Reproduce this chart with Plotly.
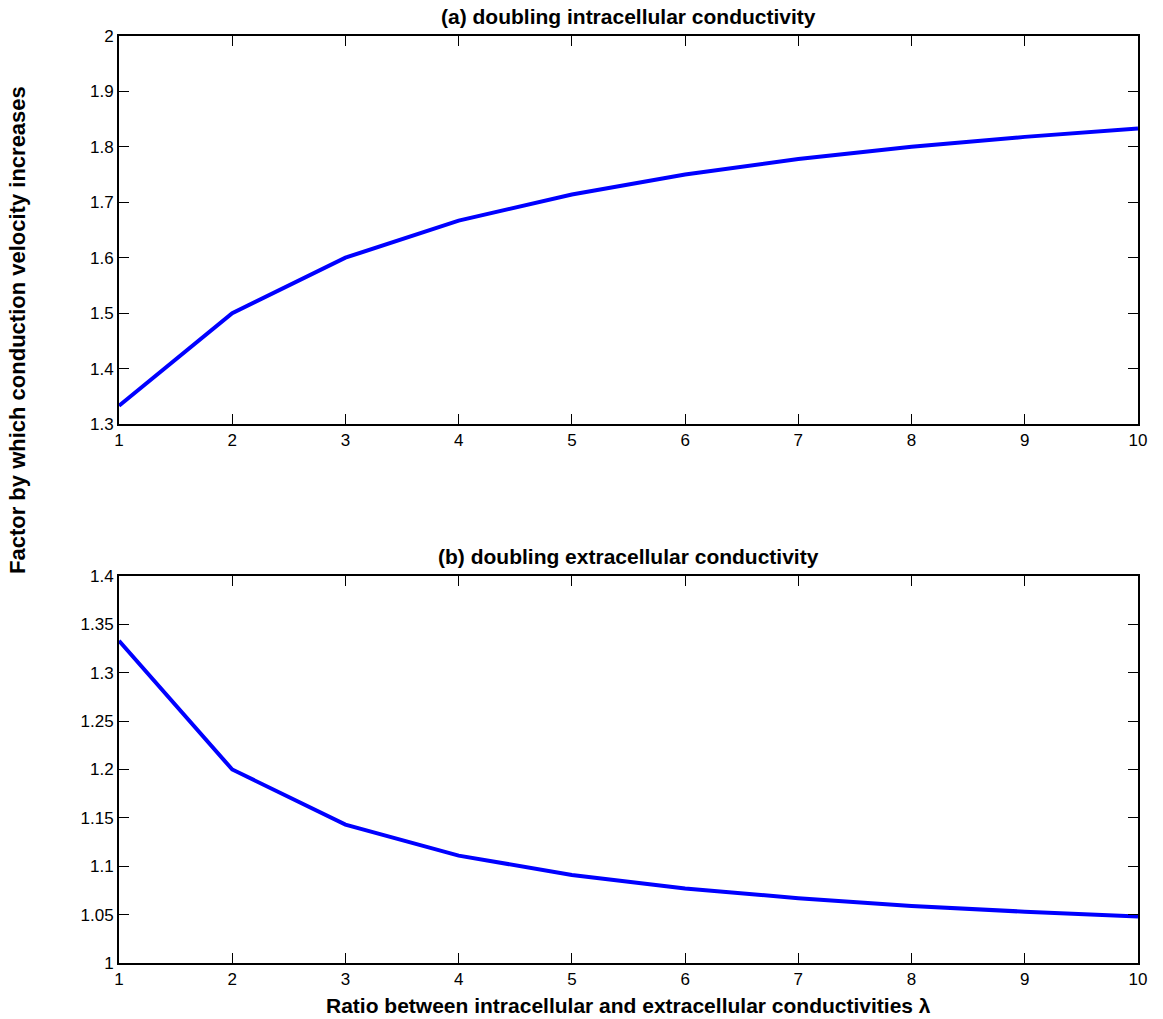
import plotly.graph_objects as go
from plotly.subplots import make_subplots

# Ratio between intracellular and extracellular conductivities
lam = [1, 2, 3, 4, 5, 6, 7, 8, 9, 10]

# Velocity increase factor when doubling intracellular conductivity
factor_intra = [1.333, 1.5, 1.6, 1.667, 1.714, 1.75, 1.778, 1.8, 1.818, 1.833]

# Velocity increase factor when doubling extracellular conductivity
factor_extra = [1.333, 1.2, 1.143, 1.111, 1.091, 1.077, 1.067, 1.059, 1.053, 1.048]

x_ticks = [1, 2, 3, 4, 5, 6, 7, 8, 9, 10]
y_ticks_a = [1.3, 1.4, 1.5, 1.6, 1.7, 1.8, 1.9, 2]
y_ticks_b = [1, 1.05, 1.1, 1.15, 1.2, 1.25, 1.3, 1.35, 1.4]

W, H = 1163, 1019
L, R, T, B = 119, 25, 36, 56
PLOT_H = H - T - B

fig = make_subplots(rows=2, cols=1)

line_style = dict(color="#0000FF", width=4)
fig.add_trace(go.Scatter(x=lam, y=factor_intra, mode="lines", line=line_style,
                         showlegend=False), row=1, col=1)
fig.add_trace(go.Scatter(x=lam, y=factor_extra, mode="lines", line=line_style,
                         showlegend=False), row=2, col=1)

tick_font = dict(family="Liberation Sans, Arial, sans-serif", size=17, color="#000")
axis_common = dict(
    showline=True, linecolor="#000", linewidth=2, mirror="ticks",
    ticks="inside", ticklen=10, tickwidth=1, tickcolor="#000",
    showgrid=False, zeroline=False, tickfont=tick_font,
)

fig.update_xaxes(range=[1, 10], tickvals=x_ticks,
                 ticktext=[str(v) for v in x_ticks], **axis_common)
fig.update_yaxes(**axis_common)
fig.update_yaxes(range=[1.3, 2], tickvals=y_ticks_a,
                 ticktext=[f"{v:g}" for v in y_ticks_a], row=1, col=1)
fig.update_yaxes(range=[1, 1.4], tickvals=y_ticks_b,
                 ticktext=[f"{v:g}" for v in y_ticks_b], row=2, col=1)

# Panel heights in pixels: top panel 36..424, bottom panel 576..963
top_bottom_px, bottom_top_px = 424, 576
dom_a = [(H - B - top_bottom_px) / PLOT_H, 1.0]
dom_b = [0.0, (H - B - bottom_top_px) / PLOT_H]

fig.update_layout(
    xaxis=dict(domain=[0, 1]),
    yaxis=dict(domain=dom_a),
    xaxis2=dict(domain=[0, 1]),
    yaxis2=dict(domain=dom_b),
)

title_font = dict(family="Liberation Sans, Arial, sans-serif", size=21, color="#000")
annotations = [
    dict(text="<b>(a) doubling intracellular conductivity</b>", x=0.5, y=1.0,
         xref="paper", yref="paper", xanchor="center", yanchor="bottom",
         yshift=6, showarrow=False, font=title_font),
    dict(text="<b>(b) doubling extracellular conductivity</b>", x=0.5, y=dom_b[1],
         xref="paper", yref="paper", xanchor="center", yanchor="bottom",
         yshift=6, showarrow=False, font=title_font),
    dict(text="<b>Ratio between intracellular and extracellular conductivities λ</b>",
         x=0.5, y=0, xref="paper", yref="paper", xanchor="center", yanchor="top",
         yshift=-29, showarrow=False,
         font=dict(family="Liberation Sans Narrow, Liberation Sans, Arial, sans-serif",
                   size=21, color="#000")),
    dict(text="<b>Factor by which conduction velocity increases</b>",
         x=(17 - L) / (W - L - R), y=(H - B - 330) / PLOT_H,
         xref="paper", yref="paper", showarrow=False,
         textangle=-90, xanchor="center", yanchor="middle",
         font=dict(family="Liberation Sans, Arial, sans-serif", size=22, color="#000")),
]

fig.update_layout(
    width=W, height=H,
    margin=dict(l=L, r=R, t=T, b=B),
    paper_bgcolor="white", plot_bgcolor="white",
    annotations=annotations,
)

fig.write_html("out.html")
